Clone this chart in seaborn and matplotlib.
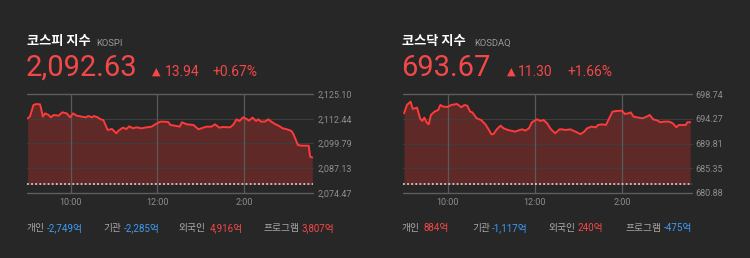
import matplotlib
matplotlib.use("Agg")
import matplotlib.pyplot as plt
import seaborn as sns
import pandas as pd

# ---------------- data ----------------
kospi_min = [0, 3, 8, 12, 17, 18, 21, 24, 29, 32, 36, 43, 48, 54, 59, 63, 68, 75, 81, 84,
             89, 92, 97, 101, 105, 111, 117, 123, 126, 132, 137, 141, 146, 151, 158, 165,
             172, 177, 184, 189, 195, 198, 204, 211, 214, 221, 230, 237, 241, 248, 255, 260,
             266, 271, 281, 285, 290, 294, 299, 304, 307, 312, 317, 320, 324, 329, 334, 338,
             344, 349, 354, 360, 366, 369, 375, 380, 390, 392, 395]
kospi_val = [2112.74, 2113.59, 2119.60, 2120.11, 2119.94, 2118.74, 2113.59, 2115.31, 2114.45,
             2113.25, 2114.45, 2114.11, 2115.82, 2115.31, 2113.25, 2115.31, 2114.11, 2113.59,
             2113.25, 2113.94, 2113.25, 2113.94, 2113.25, 2112.22, 2111.88, 2106.73, 2107.25,
             2105.02, 2106.39, 2107.93, 2107.25, 2108.62, 2107.59, 2108.10, 2107.59, 2108.10,
             2108.45, 2109.65, 2111.02, 2111.02, 2110.85, 2109.31, 2108.96, 2108.45, 2110.68,
             2109.65, 2109.31, 2107.08, 2107.59, 2108.45, 2108.45, 2109.65, 2107.93, 2108.28,
             2108.10, 2109.31, 2112.22, 2111.36, 2113.25, 2112.39, 2111.53, 2113.08, 2111.36,
             2112.22, 2111.02, 2111.02, 2112.22, 2111.02, 2109.65, 2108.79, 2107.59, 2107.08,
             2106.22, 2104.50, 2099.02, 2098.67, 2098.67, 2093.01, 2092.63]

kosdaq_min = [0, 4, 9, 12, 18, 22, 25, 28, 31, 34, 37, 42, 47, 50, 54, 60, 65, 73, 79, 83,
              87, 91, 94, 100, 106, 112, 117, 120, 123, 128, 133, 137, 143, 149, 153, 159,
              163, 167, 172, 176, 183, 188, 192, 197, 202, 208, 214, 218, 222, 229, 234, 238,
              243, 248, 252, 258, 264, 267, 273, 278, 282, 287, 292, 300, 304, 309, 312, 316,
              323, 328, 334, 338, 343, 349, 353, 358, 365, 370, 375, 378, 383, 388, 390, 394]
kosdaq_val = [695.29, 696.80, 697.41, 696.08, 696.32, 694.38, 693.90, 694.50, 693.66, 693.29,
              694.99, 695.59, 695.89, 696.80, 696.50, 696.44, 696.80, 696.99, 696.38, 696.80,
              696.68, 695.59, 695.47, 694.38, 694.08, 693.29, 692.26, 691.50, 691.50, 692.44,
              693.05, 692.57, 692.26, 692.08, 691.96, 692.26, 692.38, 692.14, 692.57, 693.66,
              694.20, 693.90, 694.08, 693.47, 692.44, 691.66, 692.38, 692.38, 692.26, 692.38,
              692.08, 691.84, 691.50, 691.96, 692.57, 692.87, 692.75, 693.17, 693.29, 693.17,
              694.26, 695.59, 695.71, 695.77, 695.17, 695.29, 695.47, 694.68, 694.50, 694.38,
              694.68, 694.99, 694.20, 693.96, 693.66, 693.78, 693.78, 693.47, 692.75, 693.17,
              693.17, 693.17, 693.66, 693.67]

kospi_prev_close = 2078.69
kosdaq_prev_close = 682.37

kospi_yticks = [2074.47, 2087.13, 2099.79, 2112.44, 2125.10]
kospi_ylabels = ["2,074.47", "2,087.13", "2,099.79", "2,112.44", "2,125.10"]
kosdaq_yticks = [680.88, 685.35, 689.81, 694.27, 698.74]
kosdaq_ylabels = ["680.88", "685.35", "689.81", "694.27", "698.74"]

xticks = [60, 180, 300]
xlabels = ["10:00", "12:00", "2:00"]

titles = ["코스피 지수", "코스닥 지수"]
codes = ["KOSPI", "KOSDAQ"]
prices = ["2,092.63", "693.67"]
changes = ["13.94", "11.30"]
pcts = ["+0.67%", "+1.66%"]

inv_labels = ["개인", "기관", "외국인", "프로그램"]
kospi_inv = ["-2,749억", "-2,285억", "4,916억", "3,807억"]
kosdaq_inv = ["884억", "-1,117억", "240억", "-475억"]

# ---------------- style ----------------
BG = "#272727"
RED = "#f44848"
BLUE = "#3d9cf5"
LINE = "#ff3a3a"
FILL = "#6a2a28"
GRAY_TXT = "#8e8e8e"

sns.set_theme(style="dark")
plt.rcParams["font.family"] = ["Roboto", "Noto Sans CJK KR", "DejaVu Sans"]

W, H = 750, 258
fig = plt.figure(figsize=(W / 100, H / 100), dpi=100, facecolor=BG)


def fx(x):
    return x / W


def fy(y):
    return 1 - y / H


def panel(x0, x1, minutes, values, prev, yticks, ylabels):
    top, bot = 94.3, 192.7
    ax = fig.add_axes([fx(x0), fy(bot), fx(x1 - x0), (bot - top) / H])
    ax.set_facecolor(BG)
    df = pd.DataFrame({"t": minutes, "v": values})
    ax.fill_between(df["t"], df["v"], prev, color=FILL, alpha=0.85, lw=0, zorder=1)
    sns.lineplot(data=df, x="t", y="v", ax=ax, color=LINE, lw=1.4, zorder=4)
    ax.axhline(prev, color="#e8e8e8", lw=1.1, ls=(0, (1.2, 1.5)), zorder=5)
    for i, yv in enumerate(yticks):
        outer = i in (0, len(yticks) - 1)
        ax.axhline(yv, color="#5e5e5e" if outer else "#3d3d3d", lw=1.0 if outer else 0.8,
                   zorder=2 if outer else 3, clip_on=False)
    for xv in xticks:
        ax.axvline(xv, color="#5a5a5a", lw=0.9, zorder=3)
    ax.set_xlim(-1, 396)
    ax.set_ylim(yticks[0], yticks[-1])
    ax.set_xticks(xticks)
    ax.set_xticklabels(xlabels, color=GRAY_TXT, fontsize=6.5)
    ax.yaxis.tick_right()
    ax.set_yticks(yticks)
    ax.set_yticklabels(ylabels, color=GRAY_TXT, fontsize=6.5)
    ax.tick_params(axis="both", length=0, pad=3)
    ax.tick_params(axis="x", pad=4)
    ax.set_xlabel("")
    ax.set_ylabel("")
    ax.grid(False)
    for s in ax.spines.values():
        s.set_visible(False)
    return ax


panel(27, 313, kospi_min, kospi_val, kospi_prev_close, kospi_yticks, kospi_ylabels)
panel(403.3, 691.7, kosdaq_min, kosdaq_val, kosdaq_prev_close, kosdaq_yticks, kosdaq_ylabels)

KR = ["Noto Sans CJK KR", "DejaVu Sans"]
NUM = ["Roboto", "Noto Sans CJK KR", "DejaVu Sans"]

headers = [
    dict(x=27, code_x=96, tri_x=152, chg_x=165, pct_x=213),
    dict(x=402, code_x=474, tri_x=507, chg_x=518, pct_x=568),
]
for i, h in enumerate(headers):
    fig.text(fx(h["x"]), fy(45.5), titles[i], color="white", fontsize=9.5,
             fontweight="bold", family=KR, va="baseline")
    fig.text(fx(h["code_x"]), fy(45.5), codes[i], color="#9a9a9a", fontsize=6.8,
             family=NUM, va="baseline")
    fig.text(fx(h["x"] - 1), fy(76), prices[i], color=RED, fontsize=21,
             family=NUM, va="baseline")
    fig.text(fx(h["tri_x"]), fy(74.5), "▲", color=RED, fontsize=8,
             family=["DejaVu Sans"], va="baseline")
    fig.text(fx(h["chg_x"]), fy(76), changes[i], color=RED, fontsize=10,
             family=NUM, va="baseline")
    fig.text(fx(h["pct_x"]), fy(76), pcts[i], color=RED, fontsize=10,
             family=NUM, va="baseline")


def inv_row(label_xs, val_xs, vals):
    for lx, vx, lab, v in zip(label_xs, val_xs, inv_labels, vals):
        fig.text(fx(lx), fy(231), lab, color="#a8a8a8", fontsize=7, family=KR,
                 va="baseline")
        col = BLUE if v.startswith("-") else RED
        fig.text(fx(vx), fy(231), v, color=col, fontsize=7, family=NUM,
                 va="baseline")


inv_row([27, 103, 178, 263], [47, 124, 210, 302], kospi_inv)
inv_row([402, 472, 548, 625], [424, 492, 578, 664], kosdaq_inv)

fig.savefig("out.png", dpi=100, facecolor=BG)
